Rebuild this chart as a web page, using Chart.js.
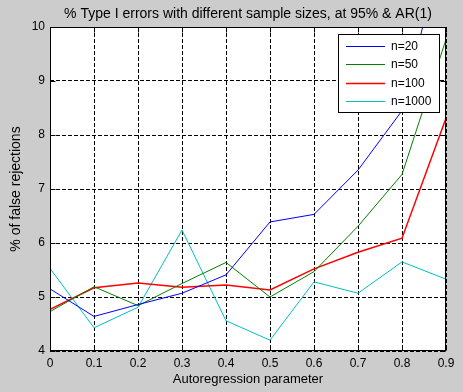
<!DOCTYPE html>
<html>
<head>
<meta charset="utf-8">
<script src="https://cdn.jsdelivr.net/npm/chart.js@4"></script>
<style>
html,body{margin:0;padding:0;background:#cccccc;}
canvas{display:block;}
</style>
</head>
<body>
<canvas id="c" width="463" height="392"></canvas>
<script>
// ---- data ----
const categories = ['0','0.1','0.2','0.3','0.4','0.5','0.6','0.7','0.8','0.9'];
const n20   = [5.15, 4.64, 4.86, 5.07, 5.41, 6.39, 6.53, 7.35, 8.45, 11.75];
const n50   = [4.73, 5.19, 4.84, 5.25, 5.64, 5.00, 5.47, 6.31, 7.27, 9.77];
const n100  = [4.77, 5.17, 5.26, 5.18, 5.22, 5.13, 5.52, 5.83, 6.09, 8.31];
const n1000 = [5.53, 4.43, 4.81, 6.24, 4.56, 4.20, 5.28, 5.07, 5.65, 5.33];
const seriesLabels = ['n=20','n=50','n=100','n=1000'];
const yMin = 4, yMax = 10, yStep = 1;
const titleText = '% Type I errors with different sample sizes, at 95% & AR(1)';
const xTitle = 'Autoregression parameter';
const yTitle = '% of false rejections';

const FONT = 'Liberation Sans, Arial, Helvetica, sans-serif';
Chart.defaults.font.family = FONT;
Chart.defaults.font.size = 12;
Chart.defaults.color = '#000';

const frame = {
  id: 'frame',
  beforeDraw(chart) {
    const {ctx, chartArea: a} = chart;
    ctx.save();
    ctx.fillStyle = '#cccccc';
    ctx.fillRect(0, 0, chart.width, chart.height);
    ctx.fillStyle = '#ffffff';
    ctx.fillRect(a.left, a.top, a.right - a.left, a.bottom - a.top);
    ctx.restore();
  },
  afterDraw(chart) {
    const {ctx, chartArea: a} = chart;
    const xs = chart.scales.x, ys = chart.scales.y;
    ctx.save();
    ctx.strokeStyle = '#000';
    ctx.lineWidth = 1;
    ctx.setLineDash([]);
    const L = Math.round(a.left) + 0.5, R = Math.round(a.right) - 0.5;
    const T = Math.round(a.top) + 0.5, B = Math.round(a.bottom) - 0.5;
    ctx.beginPath();
    xs.ticks.forEach((t, i) => {
      const px = Math.round(xs.getPixelForTick(i)) + 0.5;
      ctx.moveTo(px, T); ctx.lineTo(px, T + 5);
      ctx.moveTo(px, B); ctx.lineTo(px, B - 5);
    });
    ys.ticks.forEach((t, i) => {
      const py = Math.round(ys.getPixelForTick(i)) + 0.5;
      ctx.moveTo(L, py); ctx.lineTo(L + 5, py);
      ctx.moveTo(R, py); ctx.lineTo(R - 5, py);
    });
    ctx.stroke();
    ctx.strokeRect(L, T, R - L, B - T);

    // legend box (inside the plot, top right)
    const bx = 338.5, by = 34.5, bw = 101, bh = 78;
    ctx.fillStyle = '#fff';
    ctx.fillRect(bx, by, bw, bh);
    ctx.strokeRect(bx, by, bw, bh);
    ctx.font = '12px ' + FONT;
    ctx.textBaseline = 'middle';
    ctx.textAlign = 'left';
    chart.data.datasets.forEach((ds, i) => {
      const y = 46 + i * 18.4;
      ctx.strokeStyle = ds.borderColor;
      ctx.lineWidth = ds.borderWidth;
      ctx.beginPath();
      ctx.moveTo(346, Math.round(y) + 0.5);
      ctx.lineTo(385, Math.round(y) + 0.5);
      ctx.stroke();
      ctx.fillStyle = '#000';
      ctx.fillText(ds.label, 391, y + 0.5);
    });
    ctx.restore();
  }
};

const mk = (label, data, color, w) => ({
  label, data, borderColor: color, backgroundColor: color,
  borderWidth: w, pointRadius: 0, pointHoverRadius: 0, tension: 0, fill: false
});

new Chart(document.getElementById('c'), {
  type: 'line',
  data: {
    labels: categories,
    datasets: [
      mk(seriesLabels[0], n20, '#0000ff', 1),
      mk(seriesLabels[1], n50, '#008000', 1),
      mk(seriesLabels[2], n100, '#ff0000', 1.5),
      mk(seriesLabels[3], n1000, '#00bfbf', 1)
    ]
  },
  options: {
    responsive: false,
    animation: false,
    devicePixelRatio: 1,
    layout: { padding: { left: 0, right: 17, top: 0, bottom: 0 } },
    plugins: {
      legend: { display: false },
      tooltip: { enabled: false },
      title: {
        display: true, text: titleText, color: '#000', fullSize: false,
        font: { size: 14, weight: 'normal', family: FONT },
        padding: { top: 6, bottom: 4.2 }
      }
    },
    scales: {
      x: {
        type: 'category',
        offset: false,
        grid: { color: '#000', lineWidth: 1, drawTicks: false, offset: false },
        border: { display: false, dash: [4, 2] },
        ticks: { padding: 5, maxRotation: 0, autoSkip: false, color: '#000', font: { size: 12 } },
        title: { display: true, text: xTitle, color: '#000', font: { size: 13 }, padding: { top: 0, bottom: 4.9 } },
        afterFit(s) { s.height = 41; s.paddingLeft = 0; s.paddingRight = 0; }
      },
      y: {
        type: 'linear',
        min: yMin, max: yMax,
        grid: { color: '#000', lineWidth: 1, drawTicks: false },
        border: { display: false, dash: [4, 2] },
        ticks: { stepSize: yStep, padding: 5, color: '#000', font: { size: 12 } },
        title: { display: true, text: yTitle, color: '#000', font: { size: 14 }, padding: { top: 7.6, bottom: 0 } },
        afterFit(s) { s.width = 50; s.paddingTop = 0; s.paddingBottom = 0; }
      }
    }
  },
  plugins: [frame]
});
</script>
</body>
</html>
